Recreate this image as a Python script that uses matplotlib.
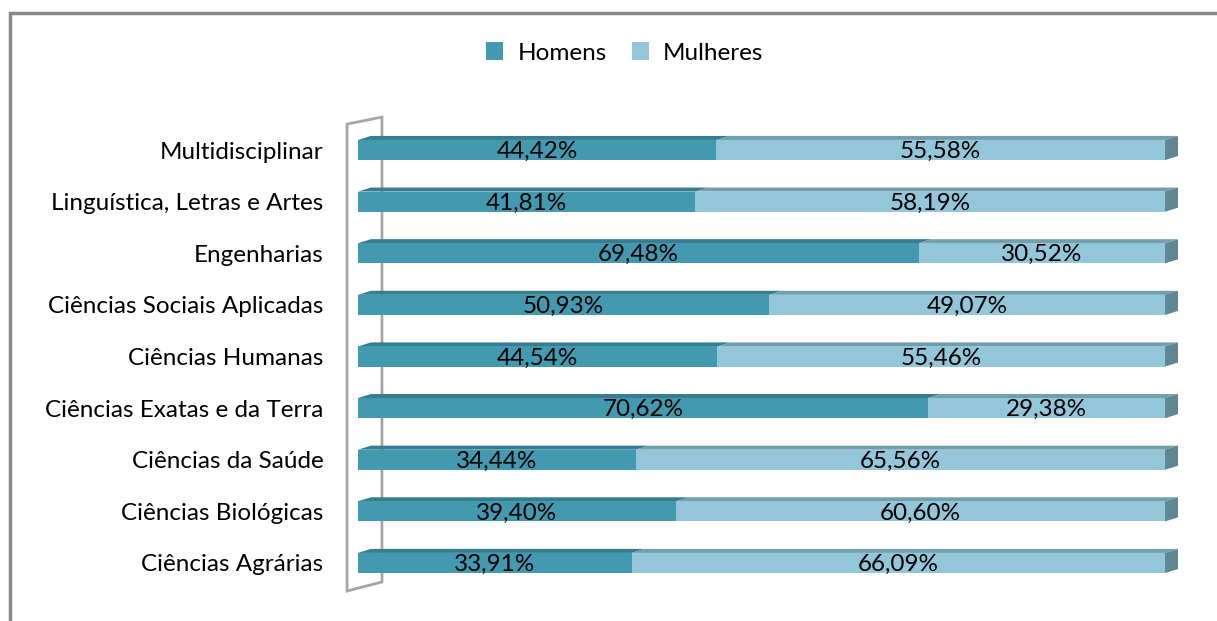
import matplotlib.pyplot as plt
from matplotlib.patches import Polygon, Rectangle

plt.rcParams['font.family'] = ['Lato', 'DejaVu Sans']

# categories from bottom to top
areas = ["Ciências Agrárias", "Ciências Biológicas", "Ciências da Saúde",
         "Ciências Exatas e da Terra", "Ciências Humanas",
         "Ciências Sociais Aplicadas", "Engenharias",
         "Linguística, Letras e Artes", "Multidisciplinar"]
homens = [33.91, 39.40, 34.44, 70.62, 44.54, 50.93, 69.48, 41.81, 44.42]
mulheres = [66.09, 60.60, 65.56, 29.38, 55.46, 49.07, 30.52, 58.19, 55.58]

c_h = "#4399b0"
c_h_top = "#357d8f"
c_m = "#93c6d9"
c_m_top = "#729ead"
c_side = "#5f8692"
fs = 17.5

W, H = 1217, 621
fig = plt.figure(figsize=(W / 100, H / 100), dpi=100)
# axes placed so that 0..100 % maps to the bar fronts
ax = fig.add_axes([358 / W, 1 - 614.6 / H, (1165 - 358) / W, (614.6 - 98.4) / H])
ax.set_xlim(0, 100)
ax.set_ylim(-1, 9)

bh = 0.39      # bar height
dx, dy = 1.61, 0.078   # 3D depth offset

# back wall
wall = Polygon([(-1.36, -0.543), (-1.36, 8.503), (2.97, 8.638), (2.97, -0.368)],
               closed=True, fill=False, edgecolor="#a6a6a6", lw=2, clip_on=False)
ax.add_patch(wall)

for i, (h, m) in enumerate(zip(homens, mulheres)):
    y0 = i - bh / 2
    y1 = i + bh / 2
    # top faces
    ax.add_patch(Polygon([(0, y1), (dx, y1 + dy), (h + dx, y1 + dy), (h, y1)],
                         color=c_h_top, clip_on=False, lw=0))
    ax.add_patch(Polygon([(h, y1), (h + dx, y1 + dy), (100 + dx, y1 + dy), (100, y1)],
                         color=c_m_top, clip_on=False, lw=0))
    # right side
    ax.add_patch(Polygon([(100, y0), (100, y1), (100 + dx, y1 + dy), (100 + dx, y0 + dy)],
                         color=c_side, clip_on=False, lw=0))

ax.barh(range(len(areas)), homens, height=bh, color=c_h, label="Homens")
ax.barh(range(len(areas)), mulheres, left=homens, height=bh, color=c_m, label="Mulheres")

for i, (h, m) in enumerate(zip(homens, mulheres)):
    ax.text(h / 2, i - 0.03, f"{h:.2f}%".replace(".", ","), ha="center", va="center", fontsize=fs)
    ax.text(h + m / 2, i - 0.03, f"{m:.2f}%".replace(".", ","), ha="center", va="center", fontsize=fs)

ax.set_yticks(range(len(areas)))
ax.set_yticklabels(areas, fontsize=fs)
ax.tick_params(axis="y", length=0, pad=25)
ax.set_xticks([])
for s in ax.spines.values():
    s.set_visible(False)

fig.legend(loc="center", bbox_to_anchor=(625 / W, 1 - 53 / H), ncol=2, frameon=False,
           fontsize=fs, handlelength=0.7, handleheight=0.7, handletextpad=0.6,
           columnspacing=1.0)

# outer frame (top and left edges only visible)
fig.add_artist(Rectangle((9.5 / W, -0.1), 1.2, 1.1 - 12.5 / H, transform=fig.transFigure,
                         fill=False, edgecolor="#878787", lw=2.5))

fig.savefig("out.png", dpi=100)
